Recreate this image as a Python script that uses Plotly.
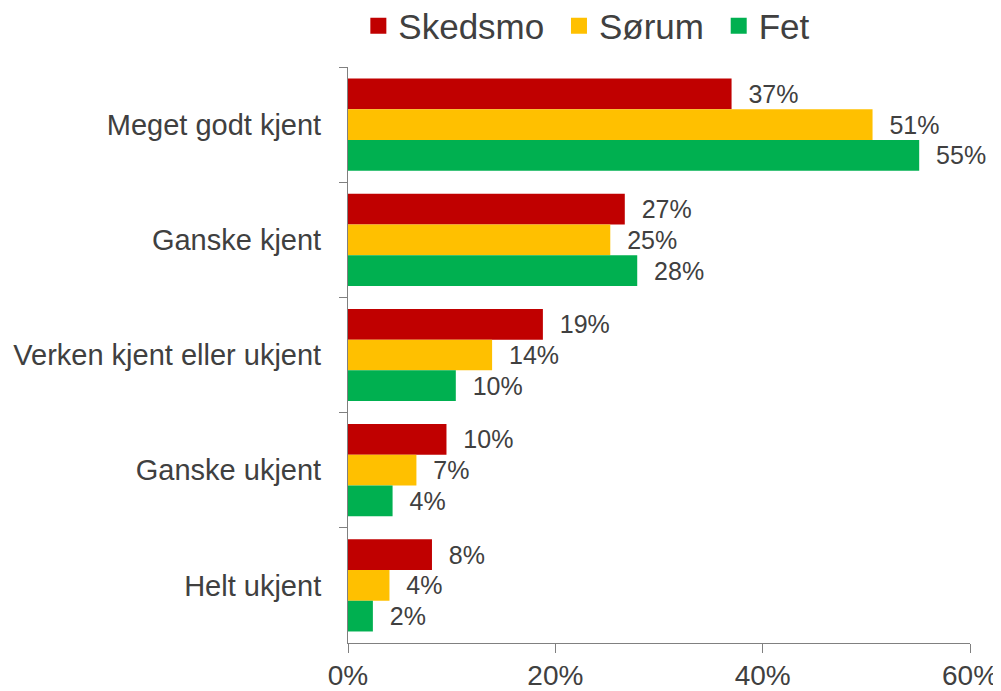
import plotly.graph_objects as go

categories = ["Meget godt kjent", "Ganske kjent", "Verken kjent eller ukjent", "Ganske ukjent", "Helt ukjent"]
series_names = ["Skedsmo", "Sørum", "Fet"]
skedsmo = [37.0, 26.7, 18.8, 9.5, 8.1]
sorum = [50.6, 25.3, 13.9, 6.6, 4.0]
fet = [55.1, 27.9, 10.4, 4.3, 2.4]
skedsmo_labels = ["37%", "27%", "19%", "10%", "8%"]
sorum_labels = ["51%", "25%", "14%", "7%", "4%"]
fet_labels = ["55%", "28%", "10%", "4%", "2%"]
colors = ["#C00000", "#FFC000", "#00B050"]
x_ticks = [0, 20, 40, 60]

FONT = "Liberation Sans, Arial, sans-serif"
TXT = "#404040"

fig = go.Figure()
for i, (name, vals, labs, col) in enumerate(zip(series_names, [skedsmo, sorum, fet],
                                 [skedsmo_labels, sorum_labels, fet_labels], colors)):
    fig.add_trace(go.Bar(
        y=categories, x=vals, orientation="h", name=name,
        marker=dict(color=col, line=dict(width=0)),
        text=["\u00a0\u00a0" + t for t in labs], textposition="outside",
        textfont=dict(family=FONT, size=25, color=TXT),
        constraintext="none", cliponaxis=False, showlegend=False,
        hoverinfo="x+y+name",
    ))
    legend_name = name + ("\u00a0" if i < len(series_names) - 1 else "")
    fig.add_trace(go.Scatter(
        x=[None], y=[None], mode="markers", name=legend_name,
        marker=dict(symbol="square", size=18, color=col),
        showlegend=True,
    ))

# the page body adds an 8px offset; margins compensate so the plot area sits at
# x 348..970, y 67..643 in the screenshot
fig.update_layout(
    width=1001, height=691,
    margin=dict(l=340, r=39, t=59, b=56, autoexpand=False),
    paper_bgcolor="white", plot_bgcolor="white",
    barmode="group", bargap=0.2, bargroupgap=0,
    font=dict(family=FONT, color=TXT),
    legend=dict(orientation="h", x=0.384, xanchor="center", y=1.02, yanchor="bottom",
                font=dict(family=FONT, size=35, color=TXT), itemclick=False,
                traceorder="normal"),
    xaxis=dict(range=[0, 60], tickvals=x_ticks, ticktext=[f"{v}%" for v in x_ticks],
               showgrid=False, zeroline=False, showline=True, linecolor="#808080",
               linewidth=1, ticks="outside", ticklen=9, tickcolor="#808080",
               tickfont=dict(family=FONT, size=28, color=TXT), ticklabelstandoff=-2,
               automargin=False),
    yaxis=dict(autorange="reversed", categoryorder="array", categoryarray=categories,
               showgrid=False, showline=True, linecolor="#808080", linewidth=1,
               ticks="outside", ticklen=8, tickcolor="#808080", tickson="boundaries",
               tickfont=dict(family=FONT, size=29, color=TXT), ticklabelstandoff=20,
               automargin=False),
)

fig.write_html("out.html")
